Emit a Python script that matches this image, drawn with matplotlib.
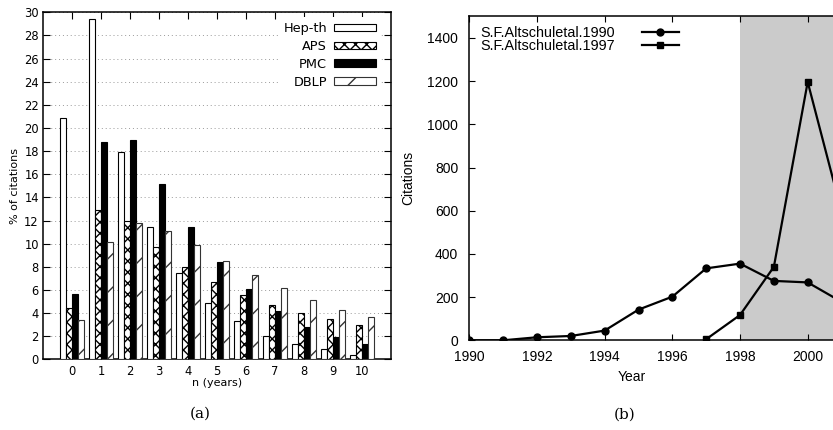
#!/usr/bin/env python3

import numpy as np
from matplotlib import pyplot as plt

# panel (a): share of citations n years after publication
years_after = list(range(11))
hep_th = [20.9, 29.45, 17.9, 11.4, 7.5, 4.85, 3.3, 2.05, 1.35, 0.85, 0.4]
aps = [4.45, 12.95, 12.0, 9.75, 8.0, 6.65, 5.55, 4.7, 4.0, 3.45, 3.0]
pmc = [5.65, 18.8, 18.95, 15.15, 11.4, 8.45, 6.1, 4.15, 2.8, 1.95, 1.35]
dblp = [3.4, 10.15, 11.8, 11.05, 9.85, 8.5, 7.25, 6.15, 5.1, 4.3, 3.65]

# panel (b): yearly citations of the two BLAST papers
years_1990 = [1990, 1991, 1992, 1993, 1994, 1995, 1996, 1997, 1998, 1999, 2000, 2001]
cites_1990 = [0, 0, 14, 20, 45, 142, 202, 333, 355, 275, 268, 178]
years_1997 = [1997, 1998, 1999, 2000, 2001]
cites_1997 = [5, 117, 340, 1196, 595]

W, H = 833, 430
fig = plt.figure(figsize=(W / 100, H / 100), dpi=100)

# ---------------- (a) ----------------
ax1 = fig.add_axes([43 / W, 1 - 359.3 / H, 348 / W, 347 / H])
x = np.arange(len(years_after))
bw = 0.2
ax1.bar(x - 1.5 * bw, hep_th, bw, facecolor='white', edgecolor='black',
        linewidth=0.8, label='Hep-th', zorder=3)
ax1.bar(x - 0.5 * bw, aps, bw, facecolor='white', edgecolor='black',
        hatch='xxx', linewidth=0.8, label='APS', zorder=3)
ax1.bar(x + 0.5 * bw, pmc, bw, facecolor='black', edgecolor='black',
        linewidth=0.8, label='PMC', zorder=3)
ax1.bar(x + 1.5 * bw, dblp, bw, facecolor='white', edgecolor='#333333',
        hatch='/', linewidth=0.8, label='DBLP', zorder=3)

ax1.set_xlim(-1, 11)
ax1.set_ylim(0, 30)
ax1.set_xticks(x)
ax1.set_yticks(range(0, 31, 2))
ax1.tick_params(direction='in', length=5, width=0.8, labelsize=8.3,
                top=True, right=True, pad=3)
ax1.tick_params(axis='x', pad=4)
ax1.grid(axis='y', linestyle=(0, (1, 3)), color='#999999', linewidth=0.7, zorder=0)
for s in ax1.spines.values():
    s.set_linewidth(1.1)
ax1.set_ylabel('% of citations', fontsize=8)
ax1.set_xlabel('n (years)', fontsize=8)
ax1.yaxis.set_label_coords((20 - 43) / 348, 0.5)
ax1.xaxis.set_label_coords(0.5, -0.0674)
ax1.xaxis.label.set_va('center')

leg1 = ax1.legend(loc='upper right', bbox_to_anchor=(0.972, 0.987), markerfirst=False,
                  fontsize=9.3, handlelength=3.25, handleheight=0.52,
                  handletextpad=0.55, labelspacing=0.38, borderpad=0.4,
                  borderaxespad=0.0, fancybox=False, framealpha=1,
                  facecolor='white', edgecolor='none')
leg1.set_zorder(5)

fig.text(200 / W, 1 - 414 / H, '(a)', fontsize=11, family='DejaVu Serif',
         ha='center', va='center')

# ---------------- (b) ----------------
px_year = 33.84
ax2 = fig.add_axes([469.3 / W, 1 - 340.3 / H, 12 * px_year / W, 324 / H])
ax2.axvspan(1998, 2002, facecolor='#cbcbcb', edgecolor='none', zorder=0)
ax2.plot(years_1990, cites_1990, color='black', linewidth=1.6, marker='o',
         markersize=5, label='S.F.Altschuletal.1990', zorder=3)
ax2.plot(years_1997, cites_1997, color='black', linewidth=1.6, marker='s',
         markersize=5, label='S.F.Altschuletal.1997', zorder=3)
ax2.set_xlim(1990, 2002)
ax2.set_ylim(0, 1500)
ax2.set_xticks(range(1990, 2001, 2))
ax2.set_yticks(range(0, 1401, 200))
ax2.tick_params(direction='in', length=4, width=0.8, labelsize=10,
                top=True, right=True)
ax2.tick_params(axis='y', pad=8)
ax2.tick_params(axis='x', pad=7)
for lbl in ax2.get_xticklabels() + ax2.get_yticklabels():
    lbl.set_family('Liberation Sans')
for s in ax2.spines.values():
    s.set_linewidth(1.1)
ax2.set_ylabel('Citations', fontsize=10, family='Liberation Sans')
ax2.set_xlabel('Year', fontsize=10, family='Liberation Sans')
ax2.yaxis.set_label_coords((415 - 469.3) / (12 * px_year), 0.5)
ax2.xaxis.set_label_coords((632 - 469.3) / (12 * px_year), (340.3 - 377) / 324)
ax2.xaxis.label.set_va('center')

leg2 = ax2.legend(loc='upper left', bbox_to_anchor=(0.0264, 0.970), markerfirst=False,
                  prop={'family': 'Liberation Sans', 'size': 10.4},
                  handlelength=2.57, handletextpad=1.87, labelspacing=-0.07,
                  borderpad=0.0, borderaxespad=0.0, frameon=False)

fig.text(625 / W, 1 - 415 / H, '(b)', fontsize=11, family='DejaVu Serif',
         ha='center', va='center')

fig.savefig('out.png', dpi=100)
